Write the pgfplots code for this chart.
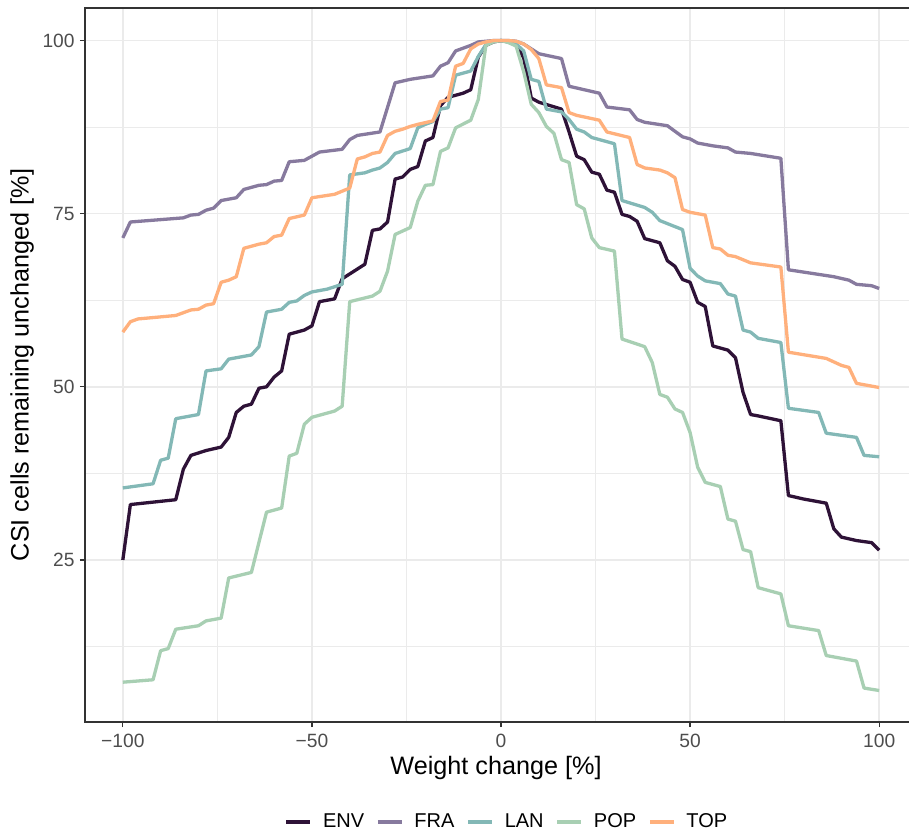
\documentclass[border=0pt]{standalone}
\usepackage{pgfplots}
\pgfplotsset{compat=1.18}
\usepackage{fontspec}
\setmainfont{Liberation Sans}

\definecolor{envc}{HTML}{2E1237}
\definecolor{frac}{HTML}{877A9E}
\definecolor{lanc}{HTML}{83B8B6}
\definecolor{popc}{HTML}{A8CFB3}
\definecolor{topc}{HTML}{FFB07C}
\definecolor{gridc}{HTML}{EBEBEB}
\definecolor{axc}{HTML}{333333}
\definecolor{tickc}{HTML}{4D4D4D}

\begin{document}
\begin{tikzpicture}
\begin{axis}[
    name=ax,
    scale only axis,
    width=416pt, height=357pt,
    xmin=-110, xmax=110,
    ymin=1.6, ymax=104.7,
    xtick={-100,-50,0,50,100},
    xticklabels={−100,−50,0,50,100},
    minor xtick={-75,-25,25,75},
    ytick={25,50,75,100},
    yticklabels={25,50,75,100},
    minor ytick={12.5,37.5,62.5,87.5},
    grid=both,
    major grid style={color=gridc, line width=0.8pt},
    minor grid style={color=gridc, line width=0.5pt},
    tick pos=left,
    tick align=outside,
    major tick length=2.5pt,
    minor tick length=0pt,
    tick style={color=axc, line width=0.6pt},
    axis line style={color=axc, line width=0.6pt},
    ticklabel style={font=\fontsize{9.6}{11}\selectfont, text=tickc},
    yticklabel style={inner xsep=2.5pt},
    xlabel={Weight change [\%]},
    ylabel={CSI cells remaining unchanged [\%]},
    label style={font=\fontsize{12.6}{15}\selectfont},
    xlabel style={at={(axis description cs:0.494,-0.0742)}, anchor=base},
    ylabel style={at={(axis description cs:-0.0757,0.5)}, anchor=center},
    legend columns=5,
    legend style={at={(axis description cs:0.506,-0.140)}, anchor=center,
        draw=none, fill=none, font=\fontsize{10}{12}\selectfont,
        nodes={inner sep=0pt},
        /tikz/every even column/.append style={column sep=6pt},
        /tikz/every odd column/.append style={column sep=5.5pt}},
    legend image code/.code={\draw[#1, line cap=butt] (0pt,0pt) -- (12pt,0pt);},
    every axis plot/.append style={line width=1.65pt, line join=round},
]
% ENV
\addplot[envc] coordinates {
(-100,25.0) (-98,33.0) (-86,33.7) (-84,38.1) (-82,40.1) (-78,40.8) (-74,41.3) (-72,42.7)
(-70,46.3) (-68,47.2) (-66,47.5) (-64,49.8) (-62,50.0) (-60,51.4) (-58,52.3) (-56,57.6)
(-52,58.2) (-50,58.8) (-48,62.3) (-44,62.7) (-42,65.6) (-36,67.7) (-34,72.6) (-32,72.8)
(-30,73.8) (-28,80.0) (-26,80.3) (-24,81.4) (-22,81.8) (-20,85.5) (-18,86.0) (-16,90.6)
(-14,91.8) (-10,92.4) (-8,92.9) (-6,97.6) (-4,99.3) (-2,99.8) (0,100) (2,99.8) (4,99.4)
(6,97.5) (8,91.7) (10,91.1) (16,90.1) (18,86.8) (20,83.3) (22,82.8) (24,81.0) (26,80.7)
(28,78.4) (30,78.1) (32,74.9) (34,74.6) (36,73.9) (38,71.4) (42,70.8) (44,68.2) (46,67.4)
(48,65.5) (50,65.1) (52,62.2) (54,61.6) (56,55.9) (60,55.3) (62,54.2) (64,49.2) (66,46.0)
(68,45.8) (74,45.1) (76,34.3) (80,33.8) (86,33.2) (88,29.5) (90,28.3) (94,27.8) (98,27.5)
(100,26.4)
};
\addlegendentry{ENV}
% FRA
\addplot[frac] coordinates {
(-100,71.5) (-98,73.8) (-84,74.4) (-82,74.8) (-80,74.9) (-78,75.5) (-76,75.8) (-74,76.9)
(-70,77.3) (-68,78.5) (-66,78.8) (-64,79.1) (-62,79.2) (-60,79.7) (-58,79.8) (-56,82.5)
(-52,82.7) (-48,83.9) (-42,84.3) (-40,85.7) (-38,86.3) (-32,86.8) (-28,93.9) (-24,94.4)
(-18,94.9) (-16,96.3) (-14,96.8) (-12,98.5) (-10,98.9) (-8,99.3) (-6,99.8) (-4,99.9)
(-2,100) (0,100) (2,100) (4,99.9) (6,99.5) (8,98.8) (10,98.1) (16,97.4) (18,93.4) (22,92.9)
(26,92.4) (28,90.4) (34,90.0) (36,88.6) (38,88.2) (44,87.7) (46,86.9) (48,86.1) (50,85.8)
(52,85.2) (56,84.8) (60,84.5) (62,83.9) (66,83.7) (74,83.0) (76,66.9) (88,65.9) (92,65.4)
(94,64.8) (98,64.6) (100,64.2)
};
\addlegendentry{FRA}
% LAN
\addplot[lanc] coordinates {
(-100,35.4) (-92,36.0) (-90,39.4) (-88,39.7) (-86,45.4) (-80,46.0) (-78,52.3) (-74,52.6)
(-72,54.0) (-66,54.6) (-64,55.8) (-62,60.8) (-58,61.2) (-56,62.2) (-54,62.4) (-52,63.2)
(-50,63.7) (-46,64.1) (-42,64.8) (-40,80.6) (-36,80.9) (-34,81.3) (-32,81.6) (-30,82.4)
(-28,83.7) (-24,84.4) (-22,87.4) (-20,87.9) (-18,88.3) (-16,90.1) (-14,90.3) (-12,95.0)
(-8,95.6) (-6,97.7) (-4,99.4) (-2,99.9) (0,100) (2,99.9) (4,99.5) (6,98.5) (8,94.4)
(10,94.1) (12,90.1) (16,89.7) (18,88.6) (20,87.2) (22,86.8) (24,86.0) (30,85.1) (32,76.9)
(38,75.9) (40,75.2) (42,74.0) (48,72.7) (50,67.1) (52,66.0) (54,65.3) (58,64.9) (60,63.4)
(62,63.1) (64,58.2) (66,57.9) (68,57.0) (74,56.4) (76,46.9) (84,46.3) (86,43.3) (94,42.7)
(96,40.1) (100,39.9)
};
\addlegendentry{LAN}
% POP
\addplot[popc] coordinates {
(-100,7.35) (-92,7.7) (-90,11.9) (-88,12.2) (-86,15.0) (-80,15.5) (-78,16.2) (-74,16.6)
(-72,22.4) (-66,23.2) (-62,31.9) (-58,32.5) (-56,40.0) (-54,40.4) (-52,44.6) (-50,45.6)
(-44,46.5) (-42,47.2) (-40,62.3) (-34,63.1) (-32,63.8) (-30,66.7) (-28,72.0) (-24,73.0)
(-22,76.8) (-20,79.1) (-18,79.2) (-16,84.0) (-14,84.5) (-12,87.4) (-8,88.5) (-6,91.5)
(-4,99.3) (-2,99.8) (0,100) (2,99.7) (4,99.2) (6,95.5) (8,90.8) (10,89.6) (12,87.6)
(14,86.6) (16,82.8) (18,82.4) (20,76.3) (22,75.7) (24,71.5) (26,70.1) (30,69.6) (32,56.9)
(38,55.8) (40,53.5) (42,48.9) (44,48.5) (46,46.8) (48,46.3) (50,43.4) (52,38.4) (54,36.2)
(58,35.6) (60,30.9) (62,30.6) (64,26.5) (66,26.2) (68,21.0) (74,20.1) (76,15.5) (84,14.8)
(86,11.2) (94,10.4) (96,6.5) (100,6.15)
};
\addlegendentry{POP}
% TOP
\addplot[topc] coordinates {
(-100,57.9) (-98,59.4) (-96,59.8) (-86,60.3) (-82,61.1) (-80,61.2) (-78,61.8) (-76,62.0)
(-74,65.1) (-72,65.4) (-70,65.9) (-68,70.0) (-66,70.3) (-64,70.6) (-62,70.8) (-60,71.7)
(-58,71.9) (-56,74.3) (-52,74.8) (-50,77.3) (-44,77.8) (-40,78.7) (-38,82.9) (-36,83.2)
(-34,83.7) (-32,83.9) (-30,86.3) (-28,86.9) (-26,87.2) (-24,87.6) (-22,87.9) (-18,88.4)
(-16,91.2) (-14,91.4) (-12,96.3) (-10,96.7) (-8,98.8) (-6,99.5) (-4,99.8) (-2,100) (0,100)
(2,100) (4,99.9) (6,99.5) (8,98.7) (10,97.4) (12,93.6) (16,93.2) (18,89.6) (20,89.2)
(26,88.5) (28,86.8) (34,86.0) (36,82.1) (38,81.6) (42,81.3) (44,80.9) (46,80.2) (48,75.6)
(50,75.2) (54,74.8) (56,70.1) (58,69.9) (60,69.0) (62,68.8) (66,67.9) (74,67.3) (76,55.0)
(86,54.1) (90,53.1) (92,52.8) (94,50.5) (100,49.9)
};
\addlegendentry{TOP}
\end{axis}
\pgfresetboundingbox
\useasboundingbox ([shift={(-42.5pt,-57.5pt)}]ax.south west) rectangle ([shift={(412pt,361pt)}]ax.south west);
\end{tikzpicture}
\end{document}
